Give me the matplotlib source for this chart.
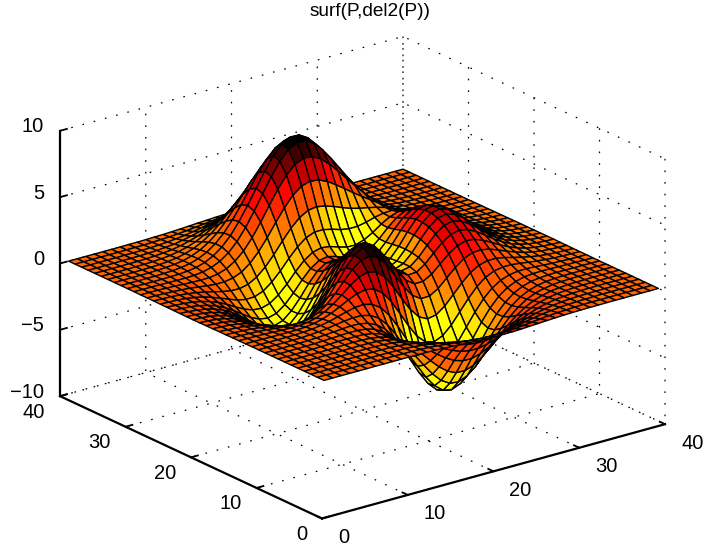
import numpy as np
import matplotlib
matplotlib.use("Agg")
from matplotlib import pyplot as plt
from matplotlib.colors import LinearSegmentedColormap
from mpl_toolkits.mplot3d import proj3d

plt.rcParams['font.family'] = ['Liberation Sans', 'DejaVu Sans']

title = "surf(P,del2(P))"
xy_ticks = [0, 10, 20, 30, 40]
z_ticks = [-10, -5, 0, 5, 10]
z_labels = ["\u221210", "\u22125", "0", "5", "10"]
colors = ["#000000", "#ff0000", "#ffff00"]

# heights, one row per y grid line
P = [
[0,0,0,0,0,0,0,0,0,0,0,0,-.01,-.03,-.06,-.09,-.13,-.17,-.21,-.24,-.25,-.25,-.24,-.22,-.18,-.15,-.11,-.08,-.05,-.03,-.02,-.01,-.01,0,0,0,0,0,0,0],
[0,0,0,0,0,0,.01,.01,.01,.01,0,-.01,-.03,-.06,-.11,-.18,-.25,-.33,-.40,-.45,-.48,-.48,-.46,-.41,-.35,-.28,-.21,-.15,-.10,-.07,-.04,-.02,-.01,-.01,0,0,0,0,0,0],
[0,0,0,0,0,.01,.01,.01,.01,.01,0,-.02,-.06,-.12,-.21,-.32,-.45,-.58,-.70,-.80,-.85,-.85,-.81,-.72,-.61,-.49,-.37,-.26,-.18,-.11,-.07,-.04,-.02,-.01,0,0,0,0,0,0],
[0,0,0,0,0,.01,.01,.01,.02,.01,0,-.04,-.11,-.21,-.36,-.54,-.76,-.98,-1.19,-1.35,-1.43,-1.44,-1.36,-1.21,-1.02,-.82,-.61,-.44,-.29,-.19,-.11,-.06,-.03,-.02,-.01,0,0,0,0,0],
[0,0,0,0,.01,.01,.02,.02,.03,.02,-.01,-.06,-.17,-.33,-.55,-.85,-1.18,-1.53,-1.85,-2.10,-2.23,-2.24,-2.12,-1.89,-1.59,-1.27,-.95,-.68,-.45,-.29,-.17,-.10,-.05,-.02,-.01,0,0,0,0,0],
[0,0,0,.01,.01,.02,.02,.03,.04,.03,0,-.08,-.22,-.45,-.78,-1.19,-1.68,-2.19,-2.65,-3.02,-3.22,-3.24,-3.06,-2.74,-2.31,-1.84,-1.38,-.98,-.65,-.41,-.24,-.13,-.07,-.03,-.01,-.01,0,0,0,0],
[0,0,0,.01,.01,.02,.03,.05,.06,.05,.01,-.08,-.27,-.57,-1.00,-1.56,-2.21,-2.91,-3.55,-4.06,-4.35,-4.38,-4.15,-3.71,-3.13,-2.49,-1.86,-1.31,-.87,-.54,-.32,-.17,-.09,-.04,-.02,-.01,0,0,0,0],
[0,0,0,.01,.02,.03,.05,.07,.08,.09,.06,-.04,-.24,-.59,-1.11,-1.79,-2.61,-3.49,-4.32,-4.98,-5.38,-5.45,-5.19,-4.65,-3.92,-3.11,-2.32,-1.62,-1.07,-.65,-.37,-.20,-.09,-.04,-.01,0,0,0,0,0],
[0,0,0,.01,.02,.03,.06,.08,.12,.14,.14,.06,-.13,-.49,-1.04,-1.81,-2.75,-3.78,-4.79,-5.61,-6.13,-6.26,-5.99,-5.38,-4.54,-3.59,-2.66,-1.84,-1.19,-.71,-.39,-.19,-.08,-.03,0,0,.01,0,0,0],
[0,0,0,.01,.02,.03,.06,.10,.15,.21,.25,.23,.10,-.20,-.71,-1.47,-2.46,-3.58,-4.71,-5.67,-6.32,-6.55,-6.32,-5.70,-4.80,-3.78,-2.76,-1.87,-1.17,-.66,-.33,-.13,-.04,.01,.02,.02,.01,.01,0,0],
[0,0,0,0,.01,.02,.06,.10,.18,.28,.38,.45,.44,.28,-.10,-.76,-1.68,-2.79,-3.97,-5.04,-5.81,-6.16,-6.03,-5.47,-4.60,-3.57,-2.55,-1.66,-.96,-.48,-.18,-.01,.05,.07,.06,.04,.03,.02,.01,0],
[0,0,-.01,-.01,-.01,0,.03,.08,.17,.30,.48,.67,.82,.87,.71,.28,-.47,-1.48,-2.63,-3.74,-4.63,-5.11,-5.12,-4.69,-3.92,-2.97,-2.02,-1.19,-.56,-.15,.08,.18,.19,.16,.11,.07,.05,.02,.01,.01],
[-.01,-.01,-.02,-.03,-.03,-.04,-.03,.01,.10,.26,.51,.82,1.16,1.45,1.58,1.45,.97,.16,-.89,-2.00,-2.97,-3.59,-3.77,-3.49,-2.87,-2.05,-1.22,-.50,.02,.32,.44,.44,.37,.27,.19,.12,.07,.04,.02,.01],
[-.01,-.02,-.03,-.05,-.08,-.11,-.12,-.12,-.06,.10,.39,.80,1.31,1.85,2.29,2.49,2.33,1.77,.87,-.20,-1.21,-1.95,-2.27,-2.15,-1.67,-.98,-.28,.32,.70,.87,.87,.75,.58,.42,.28,.17,.10,.05,.03,.01],
[-.01,-.03,-.05,-.08,-.13,-.20,-.26,-.31,-.31,-.19,.08,.54,1.17,1.93,2.64,3.15,3.29,2.99,2.26,1.27,.25,-.56,-.98,-.96,-.57,.04,.65,1.15,1.42,1.46,1.33,1.09,.82,.58,.37,.23,.13,.07,.04,.02],
[-.02,-.04,-.07,-.12,-.20,-.31,-.43,-.56,-.65,-.61,-.40,.05,.74,1.62,2.54,3.31,3.70,3.63,3.07,2.18,1.18,.35,-.09,-.09,.28,.87,1.45,1.89,2.09,2.02,1.77,1.43,1.06,.74,.48,.29,.17,.09,.04,.02],
[-.02,-.05,-.09,-.16,-.28,-.43,-.62,-.84,-1.04,-1.12,-1.00,-.63,.05,.99,2.03,2.98,3.57,3.68,3.27,2.47,1.53,.74,.34,.38,.81,1.46,2.07,2.51,2.66,2.52,2.18,1.75,1.29,.89,.57,.35,.20,.11,.05,.03],
[-.03,-.06,-.11,-.20,-.35,-.55,-.81,-1.12,-1.43,-1.64,-1.65,-1.38,-.76,.18,1.26,2.32,3.04,3.29,3.00,2.30,1.45,.74,.42,.56,1.08,1.82,2.50,2.97,3.11,2.92,2.52,2.01,1.47,1.01,.65,.40,.23,.12,.06,.03],
[-.03,-.07,-.13,-.24,-.40,-.65,-.97,-1.36,-1.77,-2.09,-2.23,-2.08,-1.56,-.66,.42,1.53,2.33,2.68,2.51,1.91,1.16,.55,.33,.57,1.20,2.04,2.78,3.28,3.42,3.21,2.76,2.19,1.61,1.11,.71,.43,.25,.13,.07,.03],
[-.04,-.07,-.14,-.26,-.44,-.71,-1.07,-1.52,-2.01,-2.43,-2.67,-2.62,-2.19,-1.37,-.32,.79,1.64,2.06,1.98,1.48,.83,.33,.20,.53,1.24,2.13,2.91,3.44,3.58,3.35,2.88,2.29,1.68,1.15,.74,.45,.26,.14,.07,.03],
[-.04,-.07,-.14,-.26,-.45,-.73,-1.11,-1.59,-2.12,-2.60,-2.92,-2.95,-2.61,-1.87,-.89,.18,1.04,1.50,1.49,1.09,.54,.13,.09,.48,1.22,2.13,2.91,3.44,3.57,3.34,2.87,2.28,1.67,1.15,.74,.45,.25,.14,.07,.03],
[-.04,-.07,-.14,-.26,-.44,-.72,-1.09,-1.57,-2.10,-2.60,-2.95,-3.04,-2.77,-2.13,-1.24,-.24,.57,1.04,1.08,.77,.33,0,.01,.42,1.15,2.03,2.78,3.28,3.41,3.18,2.73,2.17,1.59,1.09,.70,.43,.24,.13,.06,.03],
[-.03,-.07,-.13,-.24,-.41,-.66,-1.01,-1.46,-1.96,-2.44,-2.79,-2.91,-2.70,-2.14,-1.36,-.46,.29,.74,.82,.59,.23,-.02,.02,.41,1.08,1.88,2.55,3.00,3.11,2.90,2.48,1.97,1.44,.99,.64,.39,.22,.12,.06,.03],
[-.03,-.06,-.11,-.21,-.36,-.58,-.89,-1.28,-1.72,-2.15,-2.46,-2.57,-2.39,-1.91,-1.21,-.41,.28,.71,.83,.66,.39,.18,.22,.54,1.10,1.76,2.32,2.67,2.74,2.55,2.17,1.72,1.26,.86,.55,.34,.19,.10,.05,.02],
[-.02,-.05,-.09,-.17,-.30,-.48,-.73,-1.05,-1.42,-1.76,-2.00,-2.06,-1.87,-1.41,-.77,-.01,.65,1.09,1.26,1.18,.96,.78,.76,.97,1.34,1.80,2.17,2.40,2.40,2.19,1.85,1.45,1.06,.72,.46,.28,.16,.08,.04,.02],
[-.02,-.04,-.07,-.13,-.23,-.37,-.57,-.81,-1.07,-1.31,-1.44,-1.42,-1.17,-.67,-.01,.76,1.45,1.96,2.22,2.22,2.07,1.87,1.75,1.76,1.89,2.08,2.21,2.25,2.14,1.89,1.56,1.21,.87,.59,.37,.23,.13,.07,.03,.02],
[-.01,-.03,-.05,-.10,-.17,-.27,-.40,-.56,-.72,-.84,-.86,-.71,-.35,.23,.98,1.83,2.62,3.24,3.62,3.72,3.61,3.38,3.11,2.88,2.71,2.58,2.43,2.24,1.98,1.66,1.32,1.00,.70,.47,.30,.18,.10,.05,.03,.01],
[-.01,-.02,-.04,-.07,-.11,-.17,-.25,-.34,-.40,-.40,-.29,-.02,.47,1.17,2.04,3.01,3.93,4.70,5.21,5.41,5.34,5.04,4.61,4.14,3.66,3.21,2.77,2.34,1.92,1.52,1.15,.84,.57,.37,.23,.14,.08,.04,.02,.01],
[-.01,-.01,-.02,-.04,-.06,-.10,-.13,-.15,-.14,-.04,.18,.57,1.16,1.98,2.97,4.05,5.10,5.99,6.62,6.91,6.85,6.51,5.94,5.25,4.50,3.78,3.08,2.45,1.90,1.42,1.03,.71,.47,.30,.18,.10,.06,.03,.01,.01],
[0,-.01,-.01,-.02,-.03,-.04,-.04,-.02,.06,.22,.51,.97,1.64,2.52,3.57,4.71,5.83,6.80,7.50,7.84,7.81,7.43,6.77,5.93,5.02,4.10,3.25,2.49,1.85,1.32,.92,.61,.39,.24,.14,.08,.04,.02,.01,0],
[0,0,-.01,-.01,-.01,0,.02,.07,.17,.37,.69,1.18,1.86,2.74,3.78,4.90,6.01,6.97,7.68,8.05,8.03,7.64,6.96,6.08,5.09,4.11,3.19,2.39,1.73,1.20,.81,.52,.32,.19,.11,.06,.03,.02,.01,0],
[0,0,0,0,0,.02,.05,.11,.22,.42,.74,1.20,1.83,2.64,3.59,4.62,5.64,6.52,7.18,7.53,7.51,7.16,6.52,5.68,4.74,3.80,2.91,2.15,1.53,1.04,.68,.43,.26,.15,.08,.05,.02,.01,0,0],
[0,0,0,0,.01,.03,.06,.12,.22,.40,.68,1.08,1.62,2.31,3.12,3.99,4.85,5.60,6.17,6.46,6.46,6.15,5.60,4.87,4.05,3.23,2.46,1.80,1.27,.85,.55,.34,.20,.12,.06,.03,.02,.01,0,0],
[0,0,0,0,.01,.02,.05,.10,.19,.34,.56,.88,1.31,1.86,2.50,3.18,3.86,4.46,4.90,5.14,5.14,4.90,4.45,3.87,3.22,2.56,1.94,1.41,.98,.66,.42,.26,.15,.08,.05,.02,.01,0,0,0],
[0,0,0,0,.01,.02,.04,.08,.15,.26,.42,.66,.98,1.38,1.84,2.34,2.84,3.28,3.60,3.78,3.78,3.60,3.27,2.84,2.36,1.87,1.42,1.03,.71,.47,.30,.18,.11,.06,.03,.02,.01,0,0,0],
[0,0,0,0,.01,.01,.03,.06,.11,.18,.30,.46,.68,.95,1.27,1.62,1.96,2.26,2.48,2.60,2.60,2.48,2.26,1.96,1.63,1.29,.97,.70,.49,.32,.20,.12,.07,.04,.02,.01,0,0,0,0],
[0,0,0,0,.01,.01,.02,.04,.07,.12,.19,.30,.44,.61,.82,1.04,1.26,1.45,1.59,1.67,1.67,1.59,1.45,1.26,1.04,.83,.62,.45,.31,.20,.13,.08,.04,.02,.01,.01,0,0,0,0],
[0,0,0,0,0,.01,.01,.02,.04,.07,.12,.18,.26,.37,.49,.62,.75,.86,.95,.99,.99,.95,.86,.75,.62,.49,.37,.27,.18,.12,.07,.05,.03,.01,.01,0,0,0,0,0],
[0,0,0,0,0,0,.01,.01,.02,.04,.07,.10,.15,.21,.28,.35,.42,.49,.54,.56,.56,.54,.49,.42,.35,.28,.21,.15,.10,.07,.04,.02,.01,.01,0,0,0,0,0,0],
[0,0,0,0,0,0,0,.01,.01,.02,.04,.05,.08,.11,.15,.19,.22,.26,.28,.30,.30,.28,.26,.22,.19,.15,.11,.08,.05,.04,.02,.01,.01,0,0,0,0,0,0,0],
]


def del2(Z):
    p = np.pad(Z, 1, mode='edge')
    return (p[:-2, 1:-1] + p[2:, 1:-1] + p[1:-1, :-2] + p[1:-1, 2:] - 4*Z) / 4


Z = np.array(P, dtype=float)
X, Y = np.meshgrid(np.arange(1, Z.shape[1] + 1), np.arange(1, Z.shape[0] + 1))
C = del2(Z)

cmap = LinearSegmentedColormap.from_list("hot2", colors, N=64)
vmin, vmax = -0.27, 0.116
face = cmap(np.clip((C - vmin) / (vmax - vmin), 0, 1))

W, H = 705, 546
fig = plt.figure(figsize=(W/100, H/100), dpi=100)
ax = fig.add_axes([0, 0, 1, 1], projection='3d', proj_type='ortho')
ax.view_init(elev=21.0, azim=-127.5)
ax.set_box_aspect((432, 430, 284))
ax.set_xlim(0, 40)
ax.set_ylim(0, 40)
ax.set_zlim(-10, 10)

ax.plot_surface(X, Y, Z, facecolors=face, rstride=1, cstride=1, shade=False,
                edgecolor='k', linewidth=1.0, antialiased=True)

ax.set_xticks(xy_ticks)
ax.set_yticks(xy_ticks)
ax.set_zticks(z_ticks)
ax.set_xticklabels([])
ax.set_yticklabels([])
ax.set_zticklabels([])

for axis in (ax.xaxis, ax.yaxis, ax.zaxis):
    axis.pane.set_visible(False)
    axis.line.set_linewidth(1.6)
    axis.line.set_color('k')
    axis._axinfo['grid'].update(color='k', linewidth=0.9, linestyle=(0, (1.3, 8)))
    axis._axinfo['tick'].update(inward_factor=0.0, outward_factor=0.25, linewidth={True: 1.3, False: 1.3})

# move the axes so the box lands where the reference has it
ax.apply_aspect()
def to_px(p):
    x, y, _ = proj3d.proj_transform(p[0], p[1], p[2], ax.get_proj())
    return ax.transData.transform((x, y))

p0 = to_px((0, 0, -10))
p1 = to_px((40, 0, -10))
pos = ax.get_position()
left, bottom, side = pos.x0*W, pos.y0*H, pos.width*W
s = 343 / (p1[0] - p0[0])
nleft = 322 - (p0[0] - left)*s
nbottom = (H - 518.5) - (p0[1] - bottom)*s
ax.set_position([nleft/W, nbottom/H, side*s/W, side*s/H])
ax.apply_aspect()

# tick labels sit at fixed pixel offsets from the axis lines, as in the reference
def label(p, text, dx, dy, ha):
    q = to_px(p)
    fig.text((q[0] + dx)/W, (q[1] - dy)/H, text, ha=ha, va='center', fontsize=14.5)

for t in xy_ticks:
    label((t, 0, -10), str(t), 16, 19, 'left')
    label((0, t, -10), str(t), -15, 16, 'right')
for t, text in zip(z_ticks, z_labels):
    label((0, 40, t), text, -16, -4, 'right')

fig.text(370/W, 1 - 12/H, title, ha='center', va='center', fontsize=13.7)
fig.savefig("out.png", dpi=100)
